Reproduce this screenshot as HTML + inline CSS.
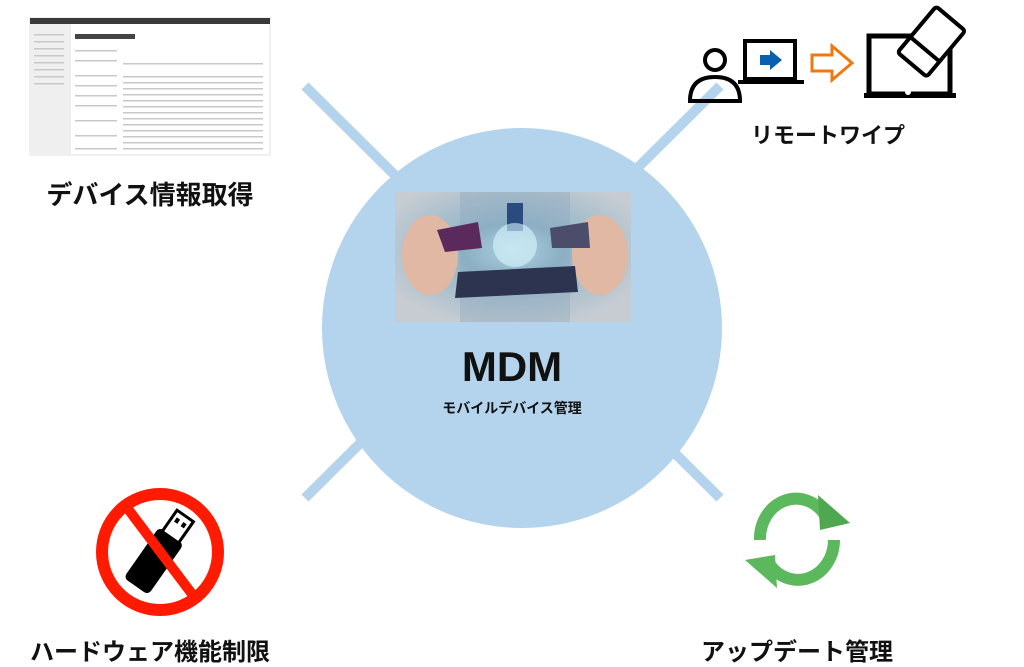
<!DOCTYPE html>
<html><head><meta charset="utf-8"><style>
body{margin:0;width:1024px;height:666px;background:#fff;overflow:hidden;position:relative;font-family:"Liberation Sans","Noto Sans CJK JP",sans-serif}
.t{position:absolute;font-weight:bold;color:#111;white-space:nowrap;transform:translateX(-50%)}
</style></head><body>
<svg width="1024" height="666" style="position:absolute;left:0;top:0">
<line x1="305" y1="86" x2="720" y2="498" stroke="#b3d4ec" stroke-width="10"/>
<line x1="305" y1="498" x2="720" y2="86" stroke="#b3d4ec" stroke-width="10"/>
<circle cx="522" cy="328" r="200" fill="#b3d4ec"/>
<defs>
<radialGradient id="g1" cx="0.5" cy="0.45" r="0.6"><stop offset="0" stop-color="#bfe9f5"/><stop offset="0.35" stop-color="#8fb5c8"/><stop offset="1" stop-color="#c7ccd2"/></radialGradient>
</defs>
<rect x="395" y="192" width="236" height="130" fill="url(#g1)"/>
<rect x="460" y="192" width="110" height="130" fill="#8aa3bb" opacity="0.35"/>
<ellipse cx="430" cy="255" rx="28" ry="40" fill="#e0b8a4"/>
<ellipse cx="600" cy="255" rx="28" ry="40" fill="#e0b8a4"/>
<polygon points="437,230 478,222 482,248 445,252" fill="#5a2a5c"/>
<polygon points="550,228 588,222 590,248 552,248" fill="#4b4d6a"/>
<polygon points="458,272 575,266 578,292 455,298" fill="#2c3450"/>
<rect x="507" y="203" width="16" height="28" fill="#2a4a80"/>
<circle cx="515" cy="245" r="22" fill="#d8f6ff" opacity="0.6"/>
<rect x="30" y="18" width="240" height="137" fill="#fff" stroke="#e2e2e2"/>
<rect x="30" y="18" width="240" height="6" fill="#3a3a3a"/>
<rect x="30" y="24" width="41" height="131" fill="#efefef"/>
<g fill="#c8c8c8">
<rect x="123" y="63" width="140" height="1.5"/><rect x="123" y="76" width="140" height="1.5"/><rect x="123" y="82" width="140" height="1.5"/><rect x="123" y="88" width="140" height="1.5"/><rect x="123" y="94" width="140" height="1.5"/><rect x="123" y="100" width="140" height="1.5"/><rect x="123" y="106" width="140" height="1.5"/><rect x="123" y="112" width="140" height="1.5"/><rect x="123" y="118" width="140" height="1.5"/><rect x="123" y="124" width="140" height="1.5"/><rect x="123" y="130" width="140" height="1.5"/><rect x="123" y="136" width="140" height="1.5"/><rect x="123" y="142" width="140" height="1.5"/><rect x="123" y="148" width="140" height="1.5"/>
<rect x="75" y="50" width="42" height="1.5"/><rect x="75" y="60" width="42" height="1.5"/><rect x="75" y="75" width="42" height="1.5"/><rect x="75" y="85" width="42" height="1.5"/><rect x="75" y="95" width="42" height="1.5"/><rect x="75" y="105" width="42" height="1.5"/><rect x="75" y="120" width="42" height="1.5"/><rect x="75" y="135" width="42" height="1.5"/><rect x="75" y="148" width="42" height="1.5"/>
<rect x="34" y="34" width="30" height="1.5"/><rect x="34" y="41" width="30" height="1.5"/><rect x="34" y="48" width="30" height="1.5"/><rect x="34" y="55" width="30" height="1.5"/><rect x="34" y="62" width="30" height="1.5"/><rect x="34" y="69" width="30" height="1.5"/><rect x="34" y="76" width="30" height="1.5"/><rect x="34" y="83" width="30" height="1.5"/>
</g>
<rect x="75" y="34" width="60" height="5" fill="#444"/>
<circle cx="715" cy="60" r="10" fill="none" stroke="#000" stroke-width="4"/>
<path d="M690 101 Q690 77 715 77 Q740 77 740 101 Z" fill="none" stroke="#000" stroke-width="4"/>
<rect x="745" y="41" width="50" height="38" fill="#fff" stroke="#000" stroke-width="4"/>
<rect x="738" y="80" width="66" height="4" fill="#000"/>
<polygon points="760,55 770,55 770,50 782,60 770,70 770,65 760,65" fill="#0b5fb0"/>
<polygon points="812,55 832,55 832,46 852,63 832,80 832,71 812,71" fill="#fff" stroke="#f07810" stroke-width="3"/>
<rect x="869" y="36" width="81" height="58" fill="none" stroke="#000" stroke-width="5"/>
<rect x="864" y="93" width="92" height="5" fill="#000"/>
<circle cx="908" cy="92" r="3" fill="#fff"/>
<g transform="translate(935,42) rotate(40)"><rect x="-22" y="-28" width="38" height="60" rx="3" fill="#fff" stroke="#000" stroke-width="4"/><line x1="-22" y1="12" x2="16" y2="12" stroke="#000" stroke-width="4"/></g>
<ellipse cx="160" cy="552" rx="58" ry="58" fill="#fff" stroke="#ff1a00" stroke-width="12"/>
<g transform="translate(160,552) rotate(35)"><rect x="-15" y="-20" width="30" height="62" rx="5" fill="#000"/><rect x="-10" y="-44" width="20" height="26" fill="#fff" stroke="#000" stroke-width="3"/><rect x="-6" y="-38" width="4" height="5" fill="#000"/><rect x="2" y="-38" width="4" height="5" fill="#000"/></g>
<line x1="125" y1="505" x2="195" y2="598" stroke="#ff1a00" stroke-width="10"/>
<path d="M760 540 A36 40 0 0 1 825 515" fill="none" stroke="#5cb85c" stroke-width="12"/>
<polygon points="818,495 850,523 820,530" fill="#4fa84f"/>
<path d="M834 540 A36 40 0 0 1 770 565" fill="none" stroke="#5cb85c" stroke-width="12"/>
<polygon points="777,588 745,560 775,555" fill="#5cb85c"/>
</svg>
<div class="t" style="left:150px;top:175px;font-size:26px">デバイス情報取得</div>
<div class="t" style="left:828px;top:118px;font-size:22px">リモートワイプ</div>
<div class="t" style="left:512px;top:343px;font-size:42px">MDM</div>
<div class="t" style="left:512px;top:398px;font-size:14px">モバイルデバイス管理</div>
<div class="t" style="left:150px;top:632px;font-size:24px">ハードウェア機能制限</div>
<div class="t" style="left:797px;top:632px;font-size:24px">アップデート管理</div>
</body></html>
